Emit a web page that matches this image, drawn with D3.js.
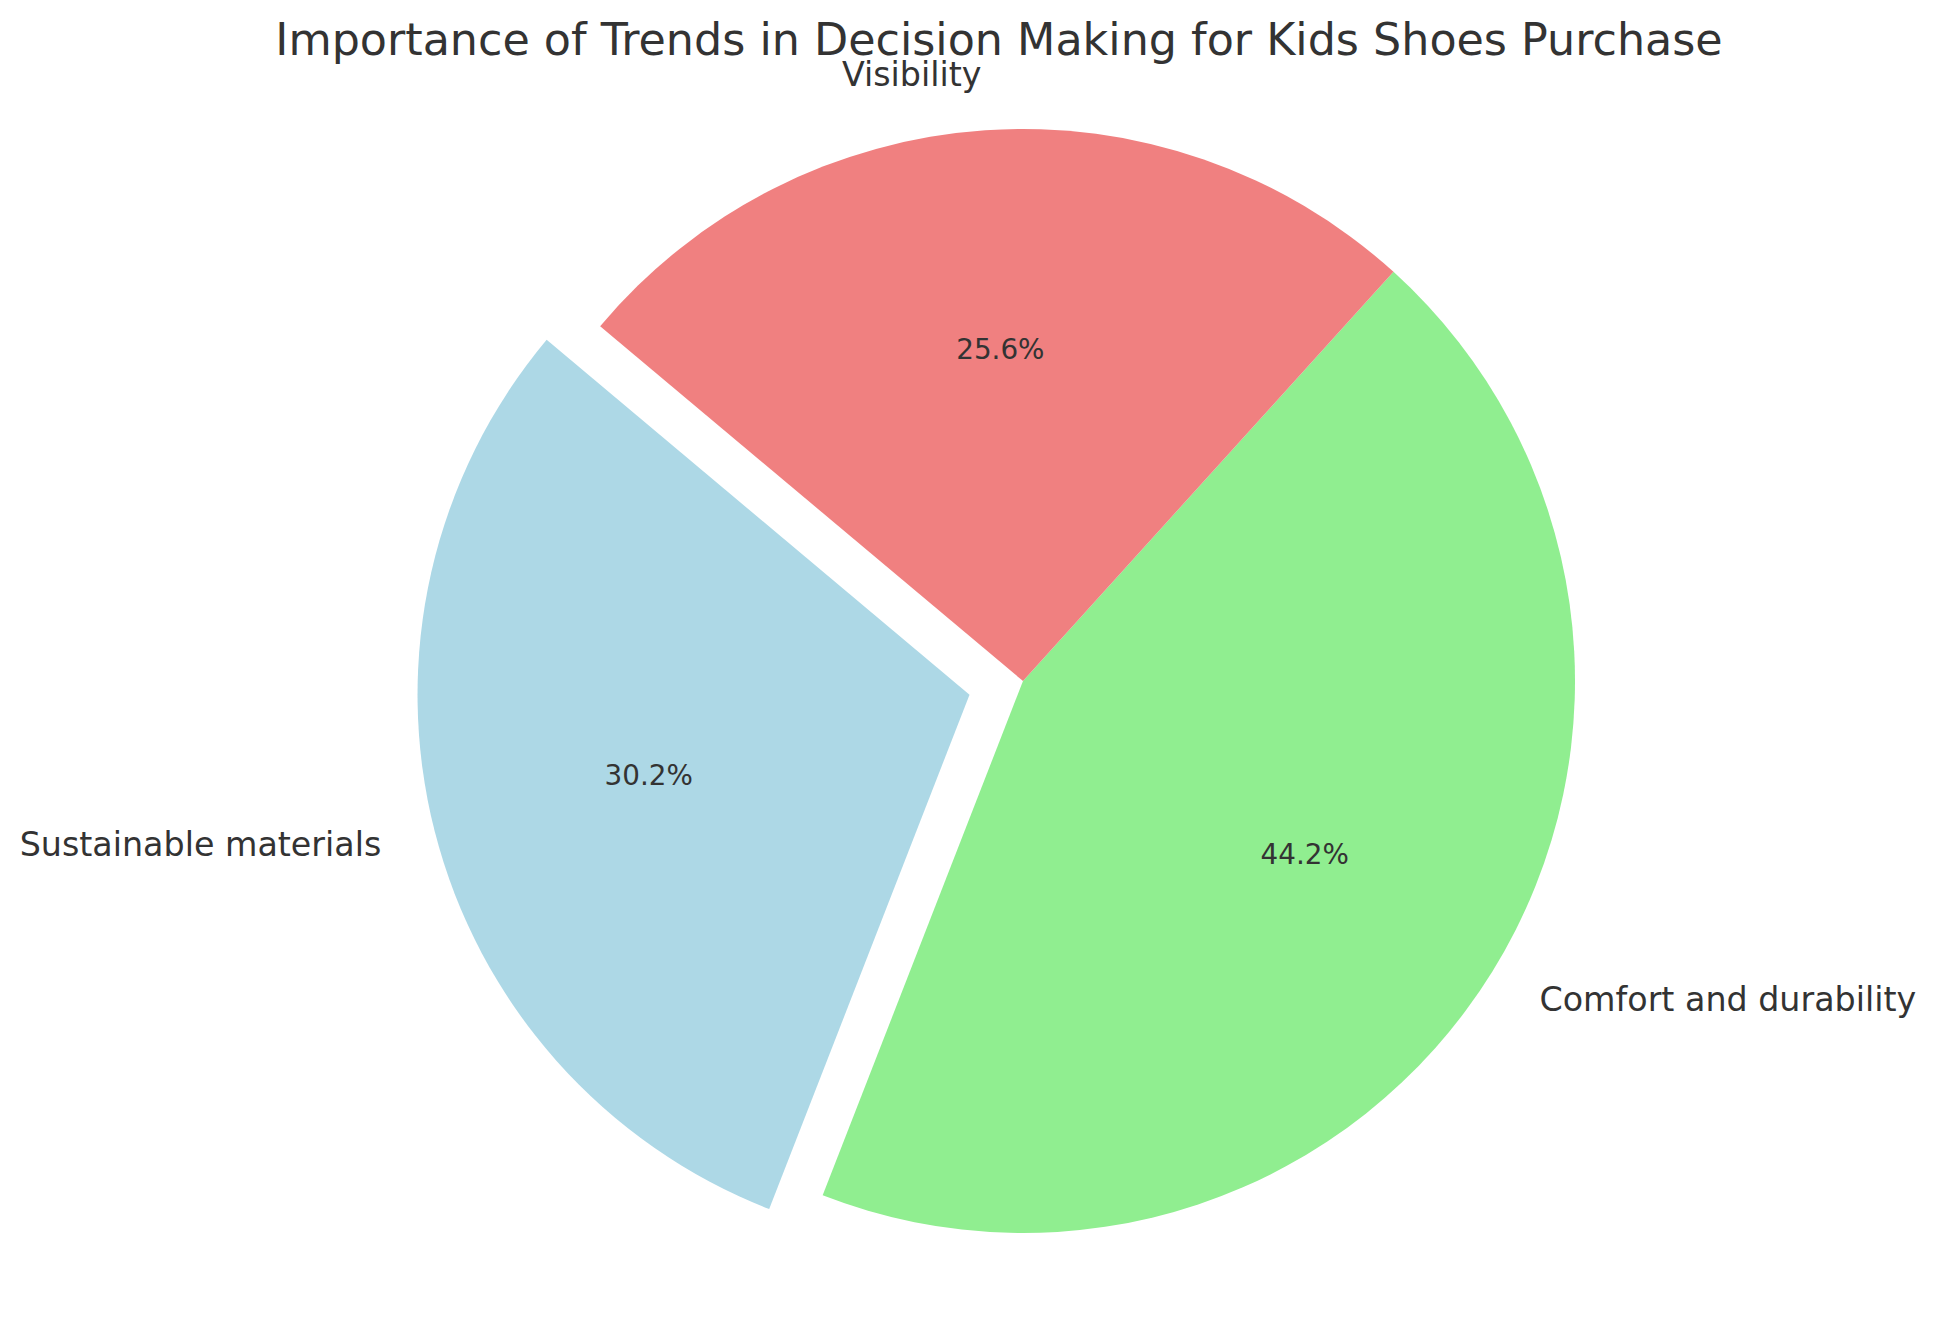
<!DOCTYPE html>
<html>
<head>
<meta charset="utf-8">
<script src="https://cdn.jsdelivr.net/npm/d3@7"></script>
<style>
  body { margin: 0; background: #fff; }
  text { font-family: "DejaVu Sans", sans-serif; fill: #333333; }
</style>
</head>
<body>
<svg id="chart" width="1938" height="1322"></svg>
<script>
const categories = ["Sustainable materials", "Comfort and durability", "Visibility"];
const shares = [30.2, 44.2, 25.6];
const colors = ["#ADD8E6", "#90EE90", "#F08080"];
const explode = [0.1, 0, 0];

const svg = d3.select("#chart");
const width = +svg.attr("width");

const cx = 1023, cy = 681, radius = 552;
const startDeg = 140; // matplotlib startangle, counterclockwise

const data = categories.map((c, i) => ({label: c, value: shares[i], color: colors[i], explode: explode[i]}));

// d3 angles go clockwise from 12 o'clock, so go negative to draw counterclockwise
const a0 = (90 - startDeg) * Math.PI / 180;
const pie = d3.pie()
    .sort(null)
    .value(d => d.value)
    .startAngle(a0)
    .endAngle(a0 - 2 * Math.PI);

const arc = d3.arc().innerRadius(0).outerRadius(radius);

const g = svg.append("g").attr("transform", `translate(${cx},${cy})`);

const slices = pie(data).map(s => {
    const mid = (s.startAngle + s.endAngle) / 2;
    const ux = Math.sin(mid), uy = -Math.cos(mid);
    const off = s.data.explode * radius;
    return Object.assign(s, {mid, ux, uy, ox: ux * off, oy: uy * off});
});

g.selectAll("path.slice")
    .data(slices)
    .enter().append("path")
    .attr("class", "slice")
    .attr("transform", d => `translate(${d.ox},${d.oy})`)
    .attr("d", arc)
    .attr("fill", d => d.data.color);

// category labels at 1.1 r
g.selectAll("text.label")
    .data(slices)
    .enter().append("text")
    .attr("class", "label")
    .attr("x", d => d.ox + d.ux * radius * 1.1)
    .attr("y", d => d.oy + d.uy * radius * 1.1)
    .attr("dy", "0.31em")
    .attr("text-anchor", d => d.ux < 0 ? "end" : "start")
    .style("font-size", "33.3px")
    .text(d => d.data.label);

// percentages at 0.6 r
g.selectAll("text.pct")
    .data(slices)
    .enter().append("text")
    .attr("class", "pct")
    .attr("x", d => d.ox + d.ux * radius * 0.6)
    .attr("y", d => d.oy + d.uy * radius * 0.6)
    .attr("dy", "0.31em")
    .attr("text-anchor", "middle")
    .style("font-size", "27.8px")
    .text(d => d.data.value.toFixed(1) + "%");

svg.append("text")
    .attr("x", 999)
    .attr("y", 55)
    .attr("text-anchor", "middle")
    .style("font-size", "44.4px")
    .text("Importance of Trends in Decision Making for Kids Shoes Purchase");
</script>
</body>
</html>
